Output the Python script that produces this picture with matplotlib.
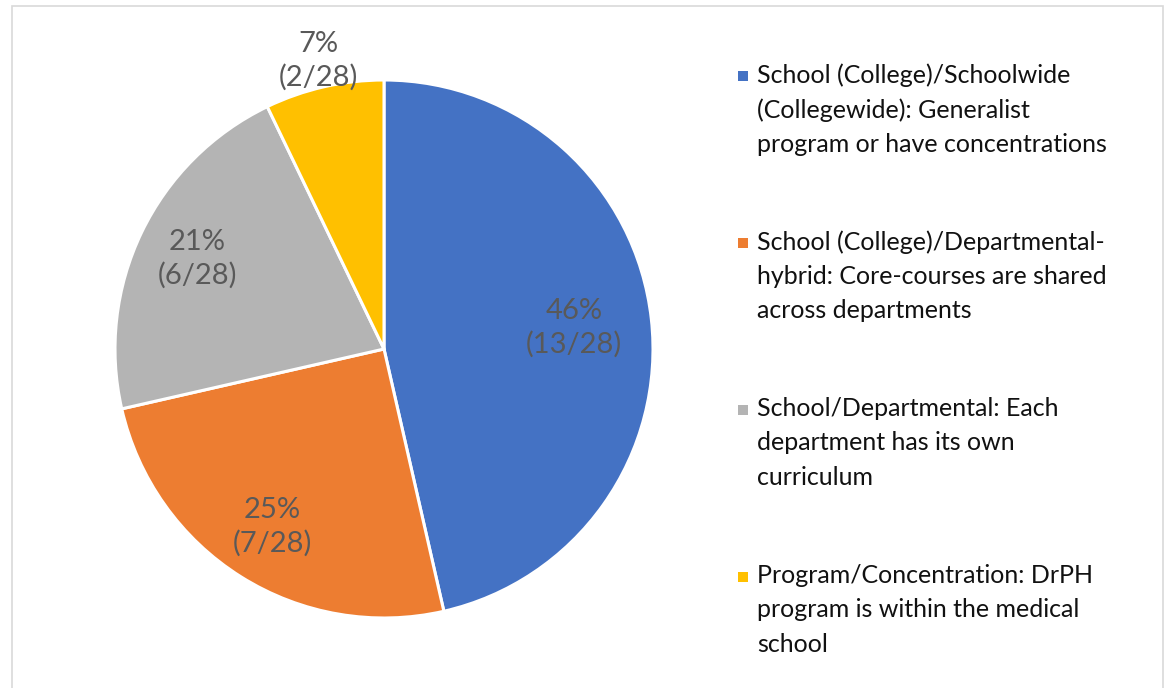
import numpy as np
import matplotlib.pyplot as plt
from matplotlib.patches import Rectangle

plt.rcParams['font.family'] = ['Lato', 'DejaVu Sans']

# Data
categories = [
    "School (College)/Schoolwide\n(Collegewide): Generalist\nprogram or have concentrations",
    "School (College)/Departmental-\nhybrid: Core-courses are shared\nacross departments",
    "School/Departmental: Each\ndepartment has its own\ncurriculum",
    "Program/Concentration: DrPH\nprogram is within the medical\nschool",
]
counts = [13, 7, 6, 2]
total = 28
colors = ['#4472C4', '#ED7D31', '#B4B4B4', '#FFC000']
label_dist = [0.71, 0.78, 0.77, 1.10]

W, H = 1165, 688
fig = plt.figure(figsize=(W / 100, H / 100), dpi=100)

# thin frame around the chart area
fig.patches.append(Rectangle((12 / W, -0.01), (1163 - 12) / W, 1 - 6 / H + 0.01,
                             transform=fig.transFigure, fill=False,
                             edgecolor='#D9D9D9', linewidth=1.2))

# Pie axes: center at (384, 349) px, radius 269 px
cx, cy, r = 384, 349, 269
half = 300
ax = fig.add_axes([(cx - half) / W, (H - cy - half) / H, 2 * half / W, 2 * half / H])
wedges, _ = ax.pie(counts, colors=colors, startangle=90, counterclock=False,
                   radius=1, wedgeprops=dict(edgecolor='white', linewidth=2.2))
ax.set_xlim(-half / r, half / r)
ax.set_ylim(-half / r, half / r)
ax.set_aspect('equal')
ax.axis('off')

for w, c, d in zip(wedges, counts, label_dist):
    mid = np.deg2rad((w.theta1 + w.theta2) / 2)
    pct = round(100 * c / total)
    ax.text(d * np.cos(mid), d * np.sin(mid), f"{pct}%\n({c}/{total})",
            ha='center', va='center', fontsize=21, color='#595959', linespacing=1.3)

# Legend
entry_top = [76, 243, 410, 577]
for lab, col, y in zip(categories, colors, entry_top):
    fig.patches.append(Rectangle((738 / W, 1 - (y + 5) / H), 10 / W, 10 / H,
                                 transform=fig.transFigure, facecolor=col, edgecolor='none'))
    fig.text(757 / W, 1 - (y - 13) / H, lab, ha='left', va='top',
             fontsize=18, color='#111111', linespacing=1.6)

fig.savefig('out.png', dpi=100)
